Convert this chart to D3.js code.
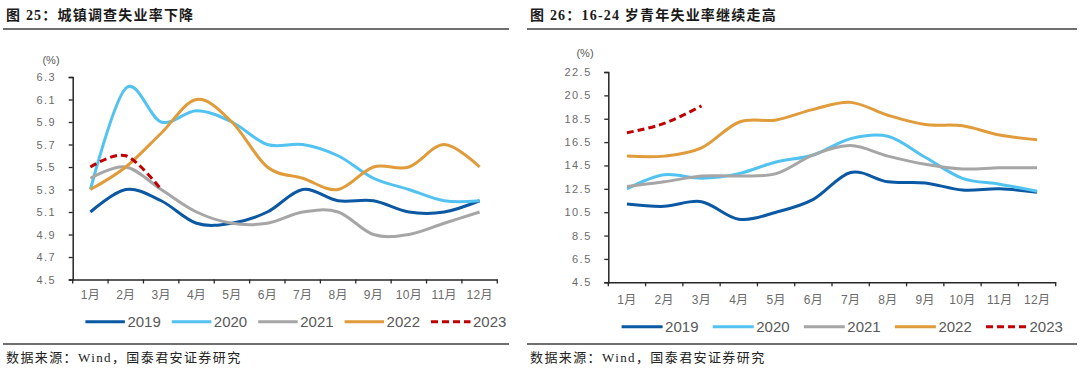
<!DOCTYPE html>
<html>
<head>
<meta charset="utf-8">
<script src="https://cdn.jsdelivr.net/npm/d3@7/dist/d3.min.js"></script>
<style>
  body { margin: 0; background: #fff; }
  svg { display: block; }
  .title { font-family: "Liberation Serif", "Noto Sans CJK SC", serif; font-weight: bold; font-size: 14px; fill: #1a1a1a; letter-spacing: 1.2px; }
  .source { font-family: "Liberation Serif", "Noto Sans CJK SC", serif; font-size: 13px; fill: #222; letter-spacing: 1.4px; }
  .tick text { font-family: "Liberation Sans", "Noto Sans CJK SC", sans-serif; font-size: 11px; fill: #6b6b6b; }
  .xax .tick text { font-size: 12px; letter-spacing: 0.3px; }
  .unit { font-family: "Liberation Sans", "Noto Sans CJK SC", sans-serif; font-size: 11px; fill: #595959; }
  .legend text { font-family: "Liberation Sans", Arial, sans-serif; font-size: 15px; fill: #595959; }
</style>
</head>
<body>
<svg id="chart" width="1080" height="373"></svg>
<script>
// months and series
var months = ["1月", "2月", "3月", "4月", "5月", "6月", "7月", "8月", "9月", "10月", "11月", "12月"];
var years = ["2019", "2020", "2021", "2022", "2023"];

// 图25 城镇调查失业率
var urban2019 = [5.1, 5.3, 5.2, 5.0, 5.0, 5.1, 5.3, 5.2, 5.2, 5.1, 5.1, 5.2];
var urban2020 = [5.3, 6.2, 5.9, 6.0, 5.9, 5.7, 5.7, 5.6, 5.4, 5.3, 5.2, 5.2];
var urban2021 = [5.4, 5.5, 5.3, 5.1, 5.0, 5.0, 5.1, 5.1, 4.9, 4.9, 5.0, 5.1];
var urban2022 = [5.3, 5.5, 5.8, 6.1, 5.9, 5.5, 5.4, 5.3, 5.5, 5.5, 5.7, 5.5];
var urban2023 = [5.5, 5.6, 5.3];
var urbanTicks = [4.5, 4.7, 4.9, 5.1, 5.3, 5.5, 5.7, 5.9, 6.1, 6.3];

// 图26 16-24岁青年失业率
var youth2019 = [11.2, 11.0, 11.4, 9.9, 10.5, 11.6, 13.9, 13.1, 13.0, 12.4, 12.5, 12.2];
var youth2020 = [12.5, 13.7, 13.4, 13.8, 14.8, 15.4, 16.8, 17.0, 15.2, 13.4, 12.9, 12.3];
var youth2021 = [12.7, 13.1, 13.6, 13.6, 13.8, 15.4, 16.2, 15.3, 14.6, 14.2, 14.3, 14.3];
var youth2022 = [15.3, 15.3, 16.0, 18.2, 18.4, 19.3, 19.9, 18.8, 18.0, 17.9, 17.1, 16.7];
var youth2023 = [17.3, 18.1, 19.6];
var youthTicks = [4.5, 6.5, 8.5, 10.5, 12.5, 14.5, 16.5, 18.5, 20.5, 22.5];

var colors = ["#0b58a3", "#52c2f0", "#a6a6a6", "#e09b3a", "#c00000"];

var svg = d3.select("#chart");

function drawPanel(cfg) {
    var g = svg.append("g");

    g.append("text").attr("class", "title")
        .attr("x", cfg.textX).attr("y", 19.5)
        .text(cfg.title);
    g.append("line")
        .attr("x1", cfg.ruleX1).attr("x2", cfg.ruleX2)
        .attr("y1", 29).attr("y2", 29)
        .attr("stroke", "#404040").attr("stroke-width", 1.5);

    var x = d3.scaleBand().domain(months).range([cfg.left, cfg.right]);
    var y = d3.scaleLinear().domain([cfg.ticks[0], cfg.ticks[cfg.ticks.length - 1]]).range([cfg.bottom, cfg.top]);

    // y axis
    var yAxis = g.append("g")
        .attr("transform", "translate(" + cfg.left + ",0)")
        .call(d3.axisLeft(y).tickValues(cfg.ticks).tickFormat(d3.format(".1f")).tickSize(4).tickPadding(cfg.yPad));
    yAxis.selectAll("text").attr("letter-spacing", "1.5px");

    // x axis, ticks on band edges
    var xAxis = g.append("g")
        .attr("class", "xax")
        .attr("transform", "translate(0," + cfg.bottom + ")")
        .call(d3.axisBottom(x).tickSize(0).tickPadding(cfg.xPad));
    xAxis.selectAll(".edge")
        .data(d3.range(months.length + 1))
        .enter().append("line")
        .attr("x1", function (i) { return cfg.left + i * x.step(); })
        .attr("x2", function (i) { return cfg.left + i * x.step(); })
        .attr("y1", 0).attr("y2", 4)
        .attr("stroke", "#262626").attr("stroke-width", 1.3);

    g.selectAll(".domain").attr("stroke", "#262626").attr("stroke-width", 1.5);
    g.selectAll(".tick line").attr("stroke", "#262626").attr("stroke-width", 1.3);

    g.append("text").attr("class", "unit")
        .attr("x", cfg.unitX).attr("y", cfg.unitY)
        .attr("text-anchor", "middle")
        .text("(%)");

    var line = d3.line()
        .x(function (d, i) { return x(months[i]) + x.bandwidth() / 2; })
        .y(function (d) { return y(d); })
        .curve(d3.curveCardinal.tension(0));

    cfg.series.forEach(function (s, k) {
        g.append("path")
            .attr("d", line(s))
            .attr("fill", "none")
            .attr("stroke", colors[k])
            .attr("stroke-width", 3)
            .attr("stroke-dasharray", k === 4 ? "7,4" : null)
            .attr("stroke-linecap", "butt");
    });

    // legend
    var lg = g.append("g").attr("class", "legend");
    var item = lg.selectAll("g").data(years).enter().append("g")
        .attr("transform", function (d, i) { return "translate(" + (cfg.legendX + i * cfg.legendStep) + "," + cfg.legendY + ")"; });
    item.append("line")
        .attr("x1", 0).attr("x2", cfg.legendLen)
        .attr("y1", 0).attr("y2", 0)
        .attr("stroke", function (d, i) { return colors[i]; })
        .attr("stroke-width", 3)
        .attr("stroke-dasharray", function (d, i) { return i === 4 ? "7,4" : null; });
    item.append("text")
        .attr("x", cfg.legendLen + 2.5).attr("y", 5.5)
        .text(function (d) { return d; });

    g.append("line")
        .attr("x1", cfg.ruleX1).attr("x2", cfg.ruleX2)
        .attr("y1", 344).attr("y2", 344)
        .attr("stroke", "#404040").attr("stroke-width", 1.5);
    g.append("text").attr("class", "source")
        .attr("x", cfg.textX).attr("y", 361.5)
        .text("数据来源：Wind，国泰君安证券研究");
}

drawPanel({
    title: "图 25：城镇调查失业率下降",
    textX: 6, ruleX1: 3, ruleX2: 509,
    left: 72.7, right: 497.3, top: 77, bottom: 279.5,
    ticks: urbanTicks, yPad: 12.5, xPad: 10.5,
    unitX: 51, unitY: 64,
    series: [urban2019, urban2020, urban2021, urban2022, urban2023],
    legendX: 85.4, legendStep: 86.4, legendLen: 39.5, legendY: 321.7
});

drawPanel({
    title: "图 26：16-24 岁青年失业率继续走高",
    textX: 530, ruleX1: 527, ruleX2: 1077,
    left: 608.3, right: 1055.7, top: 72, bottom: 282.3,
    ticks: youthTicks, yPad: 12.5, xPad: 13.2,
    unitX: 585, unitY: 57,
    series: [youth2019, youth2020, youth2021, youth2022, youth2023],
    legendX: 621.6, legendStep: 91.1, legendLen: 41, legendY: 326.7
});
</script>
</body>
</html>
